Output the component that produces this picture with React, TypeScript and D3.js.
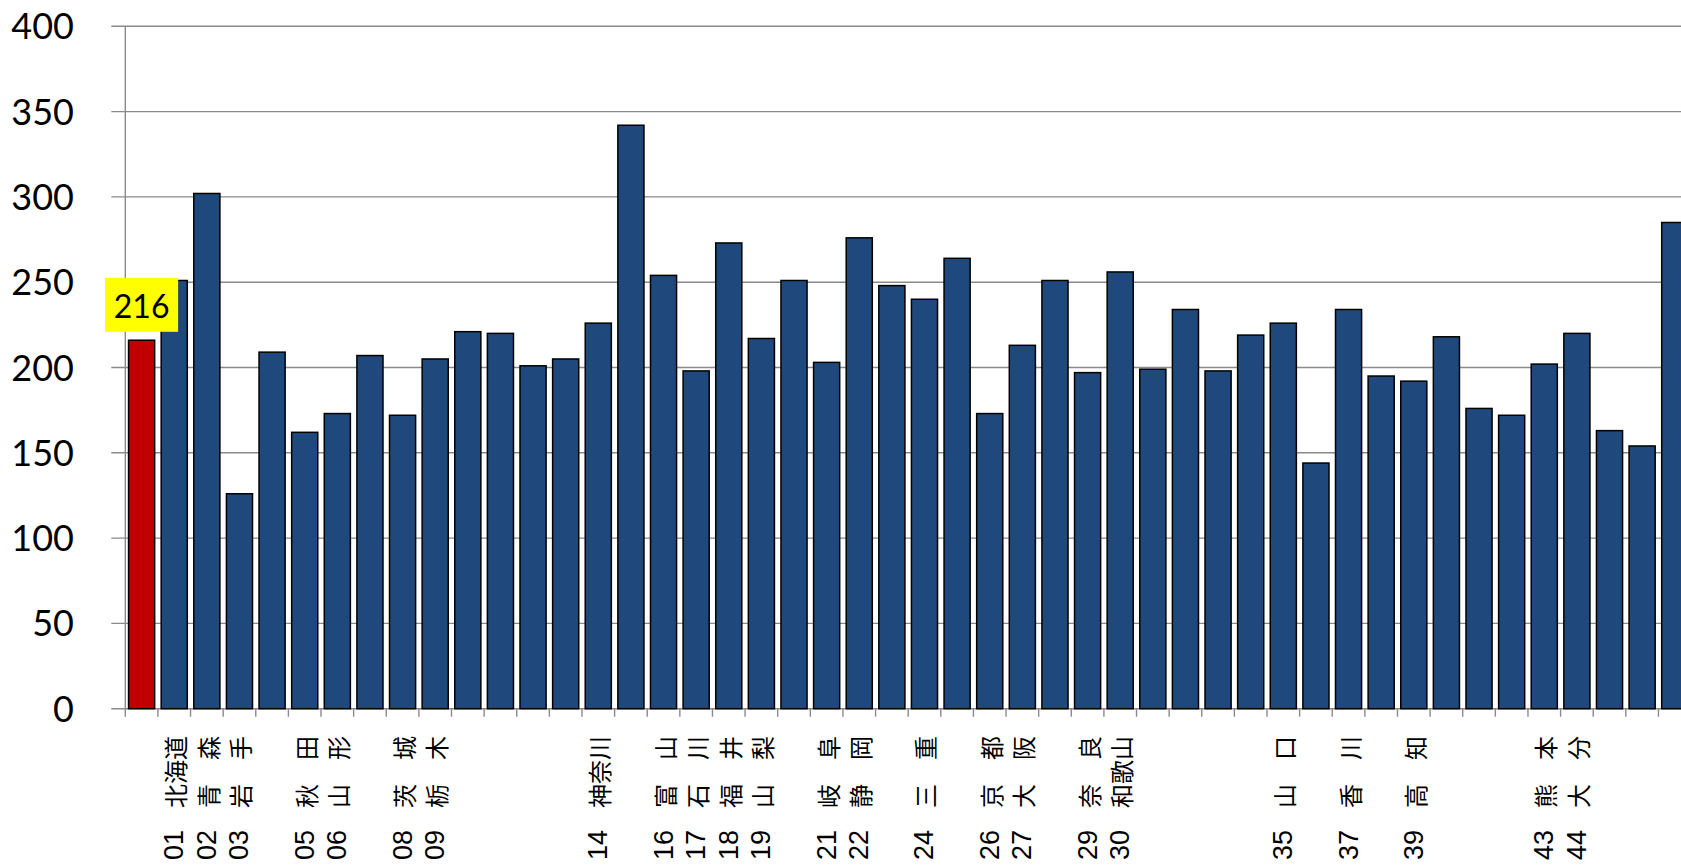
import React from "react";
import * as d3 from "d3";

// Bar values: index 0 is the highlighted (red) bar, then prefectures 01–47
const VALUES: number[] = [
  216, 251, 302, 126, 209, 162, 173, 207, 172, 205,
  221, 220, 201, 205, 226, 342, 254, 198, 273, 217,
  251, 203, 276, 248, 240, 264, 173, 213, 251, 197,
  256, 199, 234, 198, 219, 226, 144, 234, 195, 192,
  218, 176, 172, 202, 220, 163, 154, 285,
];

// Category codes and names (empty where no label is printed)
const CODES: string[] = [
  "", "01", "02", "03", "", "05", "06", "", "08", "09",
  "", "", "", "", "14", "", "16", "17", "18", "19",
  "", "21", "22", "", "24", "", "26", "27", "", "29",
  "30", "", "", "", "", "35", "", "37", "", "39",
  "", "", "", "43", "44", "", "", "",
];
const NAMES: string[] = [
  "", "北海道", "青　森", "岩　手", "", "秋　田", "山　形", "", "茨　城", "栃　木",
  "", "", "", "", "神奈川", "", "富　山", "石　川", "福　井", "山　梨",
  "", "岐　阜", "静　岡", "", "三　重", "", "京　都", "大　阪", "", "奈　良",
  "和歌山", "", "", "", "", "山　口", "", "香　川", "", "高　知",
  "", "", "", "熊　本", "大　分", "", "", "",
];

const Y_TICKS: number[] = [0, 50, 100, 150, 200, 250, 300, 350, 400];
const HIGHLIGHT_INDEX = 0;

const W = 1681;
const H = 866;
const PLOT_LEFT = 125.3;
const PLOT_TOP = 26.3;
const PLOT_BOTTOM = 708.7;
const STEP = 32.62;

const BLUE = "#1F497D";
const RED = "#C00000";
const GRID = "#8a8a8a";

export default function App() {
  const ids = VALUES.map((_, i) => String(i));
  const x = d3
    .scaleBand<string>()
    .domain(ids)
    .range([PLOT_LEFT, PLOT_LEFT + ids.length * STEP])
    .paddingInner(0.2)
    .paddingOuter(0.1);
  const y = d3.scaleLinear().domain([0, 400]).range([PLOT_BOTTOM, PLOT_TOP]);
  const step = x.step();

  const hv = VALUES[HIGHLIGHT_INDEX];
  const hx = (x(String(HIGHLIGHT_INDEX)) as number) + x.bandwidth() / 2;
  const boxW = 73;
  const boxH = 54;
  const boxBottom = y(hv) - 8.4;

  return (
    <svg
      width={W}
      height={H}
      style={{ position: "absolute", left: 0, top: 0, display: "block", background: "#fff" }}
    >
      {/* horizontal gridlines with left tick stubs */}
      {Y_TICKS.map((t) => (
        <line
          key={"g" + t}
          x1={PLOT_LEFT - 14}
          x2={W}
          y1={y(t)}
          y2={y(t)}
          stroke={GRID}
          strokeWidth={1.4}
        />
      ))}
      {/* y axis line */}
      <line x1={PLOT_LEFT} x2={PLOT_LEFT} y1={PLOT_TOP} y2={PLOT_BOTTOM} stroke={GRID} strokeWidth={1.4} />
      {/* category ticks below the baseline */}
      {d3.range(ids.length + 1).map((i) => (
        <line
          key={"t" + i}
          x1={PLOT_LEFT + i * step}
          x2={PLOT_LEFT + i * step}
          y1={PLOT_BOTTOM}
          y2={PLOT_BOTTOM + 8}
          stroke={GRID}
          strokeWidth={1.4}
        />
      ))}
      {/* y tick labels */}
      {Y_TICKS.map((t) => (
        <text
          key={"l" + t}
          x={74}
          y={y(t) + 13}
          textAnchor="end"
          fontFamily="Lato, 'Open Sans', sans-serif"
          fontSize={36}
          fill="#000"
        >
          {t}
        </text>
      ))}
      {/* bars */}
      {VALUES.map((v, i) => (
        <rect
          key={"b" + i}
          x={x(String(i))}
          y={y(v)}
          width={x.bandwidth()}
          height={y(0) - y(v)}
          fill={i === HIGHLIGHT_INDEX ? RED : BLUE}
          stroke="#000"
          strokeWidth={1.5}
        />
      ))}
      {/* value callout on the highlighted bar */}
      <rect x={hx - boxW / 2} y={boxBottom - boxH} width={boxW} height={boxH} fill="#FFFF00" />
      <text
        x={hx}
        y={boxBottom - 13.5}
        textAnchor="middle"
        fontFamily="Lato, 'Open Sans', sans-serif"
        fontSize={32}
        fill="#000"
      >
        {hv}
      </text>
      {/* rotated category labels: code, gap, name */}
      {NAMES.map((name, i) =>
        name ? (
          <text
            key={"c" + i}
            transform={`translate(${(x(String(i)) as number) + x.bandwidth() / 2},736) rotate(-90)`}
            textAnchor="end"
            dominantBaseline="central"
            fontFamily="'Noto Sans CJK JP', sans-serif"
            fontSize={24}
            fill="#000"
          >
            <tspan fontFamily="'Liberation Sans', Arial, sans-serif" fontSize={27}>
              {CODES[i]}
            </tspan>
            <tspan dx={22}>{name}</tspan>
          </text>
        ) : null
      )}
    </svg>
  );
}
